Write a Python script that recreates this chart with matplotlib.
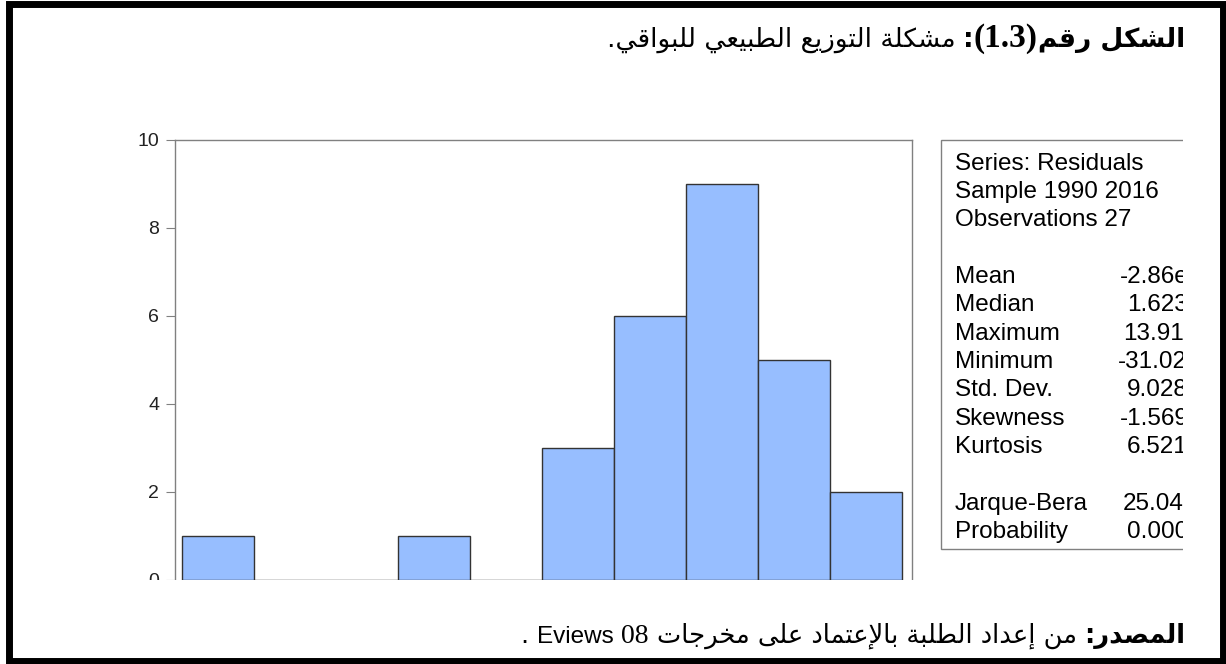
import matplotlib
matplotlib.use('Agg')
import matplotlib.pyplot as plt
from matplotlib.patches import Rectangle

plt.rcParams['font.family'] = ['Liberation Sans', 'DejaVu Sans']

# residuals histogram (EViews output), bins of width 5
bin_edges = [-35, -30, -25, -20, -15, -10, -5, 0, 5, 10, 15]
counts = [1, 0, 0, 1, 0, 3, 6, 9, 5, 2]
y_ticks = [0, 2, 4, 6, 8, 10]

info_lines = ['Series: Residuals', 'Sample 1990 2016', 'Observations 27']
stat_names = ['Mean', 'Median', 'Maximum', 'Minimum', 'Std. Dev.', 'Skewness', 'Kurtosis']
stat_values = ['-2.86e', '1.623', '13.91', '-31.02', '9.028', '-1.569', '6.521']
test_names = ['Jarque-Bera', 'Probability']
test_values = ['25.04', '0.000']

title_bold = 'الشكل رقم'
title_num = '(1.3)'
title_rest = 'مشكلة التوزيع الطبيعي للبواقي.'
source_bold = 'المصدر:'
source_rest = 'من إعداد الطلبة بالإعتماد على مخرجات'
source_sw = 'Eviews'
source_ver = '08'

# --- minimal arabic shaping (matplotlib has no text shaping) ---
_base = [('ء', 0xFE80, 1), ('آ', 0xFE81, 2), ('أ', 0xFE83, 2), ('ؤ', 0xFE85, 2),
         ('إ', 0xFE87, 2), ('ئ', 0xFE89, 4), ('ا', 0xFE8D, 2), ('ب', 0xFE8F, 4),
         ('ة', 0xFE93, 2), ('ت', 0xFE95, 4), ('ث', 0xFE99, 4), ('ج', 0xFE9D, 4),
         ('ح', 0xFEA1, 4), ('خ', 0xFEA5, 4), ('د', 0xFEA9, 2), ('ذ', 0xFEAB, 2),
         ('ر', 0xFEAD, 2), ('ز', 0xFEAF, 2), ('س', 0xFEB1, 4), ('ش', 0xFEB5, 4),
         ('ص', 0xFEB9, 4), ('ض', 0xFEBD, 4), ('ط', 0xFEC1, 4), ('ظ', 0xFEC5, 4),
         ('ع', 0xFEC9, 4), ('غ', 0xFECD, 4), ('ف', 0xFED1, 4), ('ق', 0xFED5, 4),
         ('ك', 0xFED9, 4), ('ل', 0xFEDD, 4), ('م', 0xFEE1, 4), ('ن', 0xFEE5, 4),
         ('ه', 0xFEE9, 4), ('و', 0xFEED, 2), ('ى', 0xFEEF, 2), ('ي', 0xFEF1, 4)]
FORMS = {c: (s, n) for c, s, n in _base}
LAM_ALEF = {'آ': 0xFEF5, 'أ': 0xFEF7, 'إ': 0xFEF9, 'ا': 0xFEFB}
MIRROR = {'(': ')', ')': '('}


def shape(text):
    units = []
    i = 0
    while i < len(text):
        c = text[i]
        if c == 'ل' and i + 1 < len(text) and text[i + 1] in LAM_ALEF:
            units.append(('LA', text[i + 1]))
            i += 2
        else:
            units.append((c, None))
            i += 1
    out = []
    for k, (c, a) in enumerate(units):
        prev = units[k - 1][0] if k > 0 else None
        nxt = units[k + 1][0] if k + 1 < len(units) else None
        prev_joins = prev in FORMS and FORMS[prev][1] == 4
        if c == 'LA':
            out.append(chr(LAM_ALEF[a] + (1 if prev_joins else 0)))
            continue
        if c not in FORMS:
            out.append(c)
            continue
        start, nf = FORMS[c]
        next_joins = nf == 4 and (nxt == 'LA' or (nxt in FORMS and nxt != 'ء'))
        if nf == 1:
            form = 0
        elif prev_joins and next_joins:
            form = 3
        elif prev_joins:
            form = 1
        elif next_joins:
            form = 2
        else:
            form = 0
        out.append(chr(start + form))
    return ''.join(out)


def visual(text):
    return ''.join(MIRROR.get(c, c) for c in reversed(shape(text)))


def draw_rtl(ax, renderer, x_right, y, segments):
    x = x_right
    for text, props, gap in segments:
        t = ax.text(x, y, text, ha='right', va='baseline', zorder=12, **props)
        x -= t.get_window_extent(renderer).width + gap


W, H = 1226, 664
fig = plt.figure(figsize=(W / 100, H / 100), dpi=100)
fig.patch.set_facecolor('white')

# histogram axes
ax = fig.add_axes([175 / W, (H - 580) / H, 737 / W, 440 / H])
ax.bar(bin_edges[:-1], counts, width=5, align='edge', color='#97BEFF',
       edgecolor='#333333', linewidth=1.0)
ax.set_xlim(-35.49, 15.69)
ax.set_ylim(0, 10)
ax.set_yticks(y_ticks)
ax.set_xticks([])
for side in ['left', 'top', 'right']:
    ax.spines[side].set_color('#808080')
    ax.spines[side].set_linewidth(1.0)
ax.spines['bottom'].set_visible(False)
ax.tick_params(axis='y', direction='out', length=6.5, width=0.8, color='#808080',
               labelsize=14, labelcolor='#222222', pad=5)

# overlay in pixel coordinates
ov = fig.add_axes([0, 0, 1, 1], zorder=5)
ov.set_xlim(0, W)
ov.set_ylim(H, 0)
ov.axis('off')
ov.patch.set_alpha(0)

# stats box
ov.add_patch(Rectangle((941, 140), 300, 409, facecolor='white', edgecolor='#808080', lw=1.0))
stat_font = dict(family='Liberation Sans', size=17.5, color='black')
y = 164
for line in info_lines:
    ov.text(955, y, line, va='center', **stat_font)
    y += 28
y += 29
value_x = [1120, 1127, 1123, 1118, 1127, 1120, 1127]
for name, val, vx in zip(stat_names, stat_values, value_x):
    ov.text(955, y, name, va='center', **stat_font)
    ov.text(vx, y, val, va='center', **stat_font)
    y += 28.3
y += 29
for name, val, vx in zip(test_names, test_values, [1123, 1127]):
    ov.text(955, y, name, va='center', **stat_font)
    ov.text(vx, y, val, va='center', **stat_font)
    y += 28

# the pasted chart is cropped right and bottom
ov.add_patch(Rectangle((1183, 120), 37, 480, facecolor='white', edgecolor='none', zorder=10))
ov.add_patch(Rectangle((100, 580), 1120, 25, facecolor='white', edgecolor='none', zorder=10))

# page frame
ov.add_patch(Rectangle((9, 3.5), 1214, 657, facecolor='none', edgecolor='black', lw=5.0, zorder=11))

renderer = fig.canvas.get_renderer()
ar_b = dict(family='DejaVu Sans', weight='bold', size=19, color='black')
ar_r = dict(family='DejaVu Sans', size=19, color='black')
serif_b = dict(family='Liberation Serif', weight='bold', size=24, color='black')
draw_rtl(ov, renderer, 1185, 47, [
    (visual(title_bold), ar_b, 0),
    (title_num, serif_b, 0),
    (':', ar_b, 8),
    (visual(title_rest), ar_r, 0),
])

src_b = dict(family='DejaVu Sans', weight='bold', size=18.5, color='black')
src_r = dict(family='DejaVu Sans', size=18.5, color='black')
draw_rtl(ov, renderer, 1185, 643, [
    (visual(source_bold), src_b, 7),
    (visual(source_rest), src_r, 8),
    (source_ver, dict(family='Liberation Serif', size=20, color='black'), 8),
    (source_sw, dict(family='Liberation Sans', size=17.5, color='black'), 8),
    ('.', src_r, 0),
])

fig.savefig('out.png', dpi=100, facecolor='white')
